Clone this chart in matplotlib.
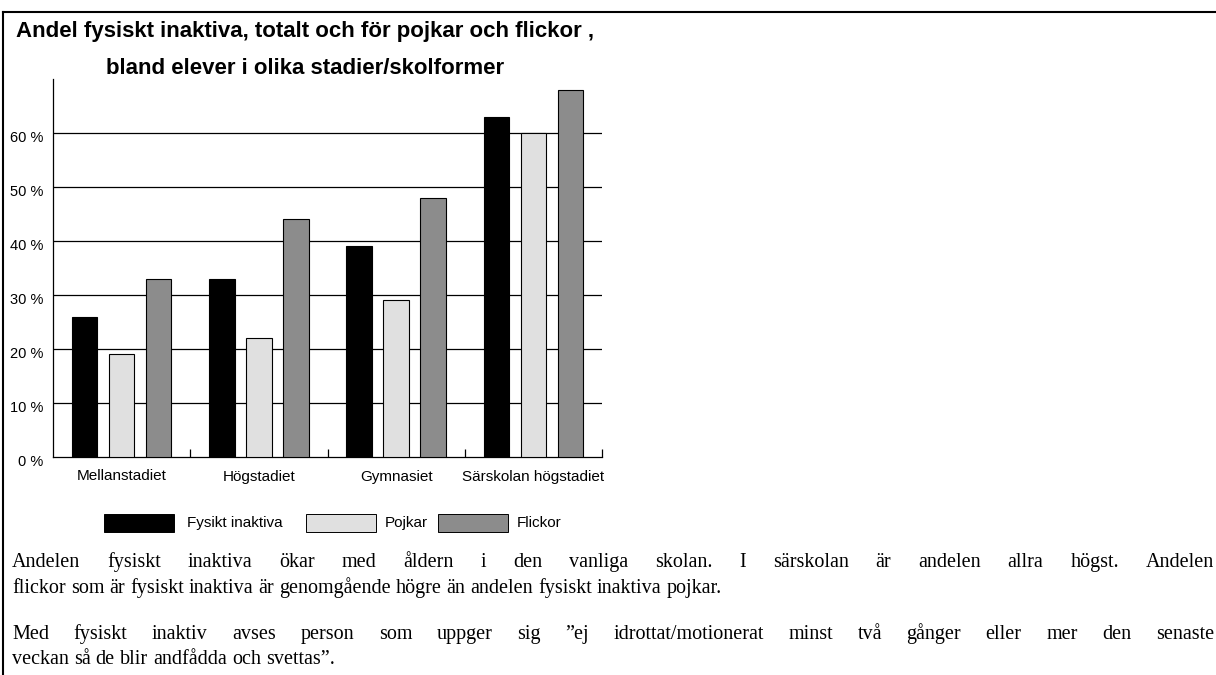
import numpy as np
import matplotlib.pyplot as plt
import matplotlib.transforms as mtransforms
from matplotlib.lines import Line2D
from matplotlib.patches import Rectangle

categories = ['Mellanstadiet', 'Högstadiet', 'Gymnasiet', 'Särskolan högstadiet']
fysiskt_inaktiva = [26, 33, 39, 63]
pojkar = [19, 22, 29, 60]
flickor = [33, 44, 48, 68]
series_names = ['Fysikt inaktiva', 'Pojkar', 'Flickor']
colors = ['#000000', '#e0e0e0', '#8c8c8c']
yticks = [0, 10, 20, 30, 40, 50, 60]

title_lines = ['Andel fysiskt inaktiva, totalt och för pojkar och flickor ,',
               'bland elever i olika stadier/skolformer']
text_lines = [
    'Andelen fysiskt inaktiva ökar med åldern i den vanliga skolan. I särskolan är andelen allra högst.  Andelen',
    'flickor som är fysiskt inaktiva är genomgående högre än andelen fysiskt inaktiva pojkar.',
    'Med fysiskt inaktiv avses person som uppger sig ”ej idrottat/motionerat minst två gånger eller mer den senaste',
    'veckan så de blir andfådda och svettas”.',
]
justified = [True, False, True, False]

plt.rcParams['font.family'] = ['Liberation Sans', 'DejaVu Sans']

W, H = 1216, 675
fig = plt.figure(figsize=(W/100, H/100), dpi=100)
ax = fig.add_axes([53/W, 1-457/H, (602-53)/W, 378/H])

x = np.arange(len(categories))
w = 0.185
step = 0.27
for i, (vals, c) in enumerate(zip([fysiskt_inaktiva, pojkar, flickor], colors)):
    ax.bar(x + (i-1)*step, vals, width=w, color=c, edgecolor='black',
           linewidth=0.8, zorder=3)

ax.set_xlim(-0.5, len(categories)-0.5)
ax.set_ylim(0, 70)
ax.set_yticks(yticks)
ax.set_yticklabels([f'{v} %' for v in yticks], fontsize=10.5)
for v in yticks[1:]:
    ax.axhline(v, color='black', linewidth=0.9, zorder=1)
ax.set_xticks(x)
ax.set_xticklabels(categories, fontsize=11)
ax.set_xticks(np.arange(len(categories)) + 0.5, minor=True)
ax.tick_params(axis='x', which='major', length=0, pad=9)
ax.tick_params(axis='x', which='minor', direction='in', length=6, width=0.9)
ax.tick_params(axis='y', length=0, pad=7)
shift = mtransforms.ScaledTranslation(0, -4/100, fig.dpi_scale_trans)
for lab in ax.get_yticklabels():
    lab.set_transform(lab.get_transform() + shift)
for s in ['top', 'right']:
    ax.spines[s].set_visible(False)
for s in ['left', 'bottom']:
    ax.spines[s].set_linewidth(0.9)

# legend
leg_x = [104, 306, 438]
leg_tx = [187, 385, 517]
for lx, tx, name, c in zip(leg_x, leg_tx, series_names, colors):
    fig.patches.append(Rectangle((lx/W, 1-532/H), 70/W, 18/H,
                                 transform=fig.transFigure, facecolor=c,
                                 edgecolor='black', linewidth=0.7))
    fig.text(tx/W, 1-523/H, name, fontsize=11, va='center', ha='left')

# title
for y, t in zip([32, 68], title_lines):
    fig.text(305/W, 1-y/H, t, fontsize=16, fontweight='bold',
             ha='center', va='center')

# frame
fig.add_artist(Line2D([2.5/W, 2.5/W], [0, 1-12/H], color='black', linewidth=1.5))
fig.add_artist(Line2D([2.5/W, 1], [1-12/H, 1-12/H], color='black', linewidth=1.5))

# body text, word by word so the justified lines fill the width
renderer = fig.canvas.get_renderer()
baselines = [567, 593, 639, 664]
fs = 14.5
x0, x1 = 12, 1214
for y, t, just in zip(baselines, text_lines, justified):
    words = t.split()
    texts = [fig.text(0, 1-y/H, wd, fontsize=fs, family='Liberation Serif',
                      va='baseline', ha='left') for wd in words]
    widths = [tx.get_window_extent(renderer).width for tx in texts]
    if just:
        gap = (x1 - x0 - sum(widths)) / (len(words) - 1)
    else:
        gap = fs * 0.25 * 100 / 72
    xp = x0
    for tx, wd in zip(texts, widths):
        tx.set_x(xp / W)
        xp += wd + gap

fig.savefig('out.png', dpi=100)
